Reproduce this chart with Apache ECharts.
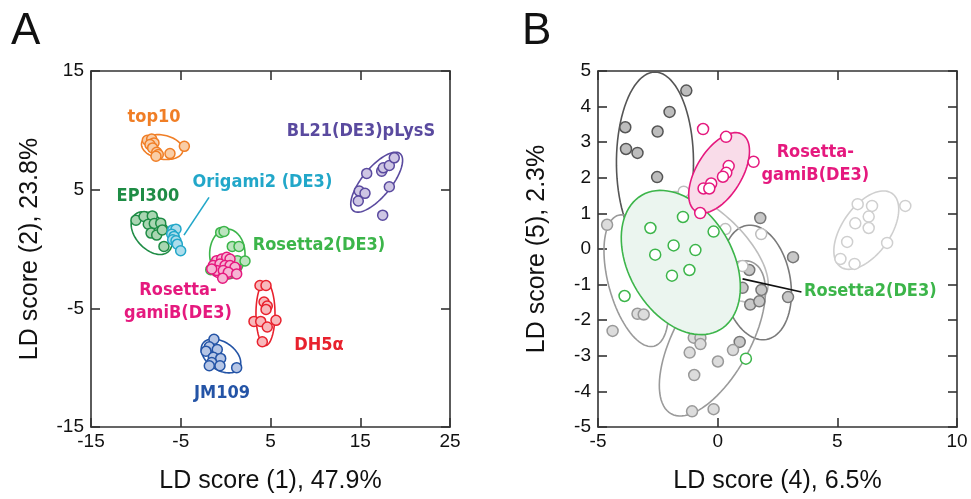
<!DOCTYPE html>
<html>
<head>
<meta charset="utf-8">
<script src="https://cdn.jsdelivr.net/npm/echarts@6/dist/echarts.min.js"></script>
<style>
  html, body { margin: 0; padding: 0; background: #fff; }
  #chart { width: 971px; height: 499px; }
</style>
</head>
<body>
<div id="chart"></div>
<script>
// ---- panel A: LD1 vs LD2 ----
const top10 = [[-8.73,9.16],[-8.24,9.27],[-7.98,8.94],[-8.43,8.80],[-8.13,8.52],[-7.68,8.15],[-7.50,7.96],[-7.76,7.82],[-6.20,8.04],[-4.60,8.65]];
const epi300 = [[-9.99,2.43],[-9.09,2.74],[-8.17,2.79],[-8.62,2.09],[-7.95,2.15],[-7.23,2.18],[-8.31,1.34],[-7.68,1.17],[-7.06,1.61],[-6.87,0.22]];
const origami2 = [[-5.90,1.61],[-5.53,1.67],[-6.01,1.25],[-5.75,1.06],[-5.90,0.78],[-5.53,0.69],[-5.38,0.41],[-5.01,-0.15]];
const rosetta2A = [[-0.55,1.40],[-0.18,1.48],[0.74,0.22],[1.49,0.22],[1.30,-0.98],[2.16,-1.01],[-1.66,-1.74],[1.04,-2.02]];
const gamiBA = [[-1.00,-0.98],[-0.44,-0.84],[0.12,-0.70],[0.49,-0.84],[-1.37,-1.40],[-0.63,-1.26],[-0.07,-1.40],[0.49,-1.40],[1.04,-1.54],[-1.00,-1.82],[-0.26,-1.82],[0.30,-1.96],[1.23,-2.10],[-0.33,-2.46],[-1.55,-1.68]];
const dh5a = [[3.83,-3.08],[4.50,-3.08],[4.28,-4.47],[4.64,-4.81],[4.50,-5.09],[3.16,-6.10],[3.91,-6.10],[4.64,-6.57],[5.61,-6.01],[4.09,-7.82]];
const jm109 = [[-1.30,-7.61],[-1.82,-8.24],[-0.93,-8.47],[-2.19,-8.61],[-1.37,-9.12],[-0.55,-9.22],[-1.55,-9.56],[-0.63,-9.84],[-1.82,-9.84],[1.23,-10.00]];
const bl21 = [[15.72,6.37],[17.39,6.56],[17.57,6.84],[18.24,7.04],[18.79,7.68],[18.24,5.25],[14.89,4.88],[15.53,4.69],[14.78,4.04],[17.50,2.85]];

// ellipses: [cx, cy, ax, ay, bx, by] (centre + two conjugate semi-diameters, data units)
const ellTop10 = [-7.07,8.59,2.29,-0.35,-0.27,-0.99];
const ellEpi300 = [-8.24,1.34,1.86,-1.56,-1.33,-0.90];
const ellOrigami2 = [-5.75,0.98,0.19,-0.83,-0.55,-0.07];
const ellRosetta2A = [0.19,-0.42,0,-2.10,-1.97,0];
const ellGamiBA = [-0.07,-1.51,1.78,0,0,-1.01];
const ellDh5a = [4.44,-5.45,0,-2.68,-1.06,0];
const ellJm109 = [-0.52,-9.01,2.01,-1.06,-0.90,-0.96];
const ellBl21 = [16.83,5.63,2.60,2.41,1.26,-0.76];

const labelsA = [
  ['top10', -7.98, 11.06],
  ['EPI300', -8.65, 4.44],
  ['Origami2 (DE3)', 4.10, 5.61],
  ['BL21(DE3)pLysS', 15.08, 9.89],
  ['Rosetta2(DE3)', 10.40, 0.33],
  ['Rosetta-\ngamiB(DE3)', -5.31, -4.45],
  ['DH5α', 10.40, -8.13],
  ['JM109', -0.40, -12.16]
];
const leaderA = [[-4.64,1.17],[-1.85,4.35]];

// ---- panel B: LD4 vs LD5 ----
const grayG1 = [[-1.31,4.45],[-2.01,3.85],[-3.86,3.42],[-2.51,3.30],[-3.83,2.81],[-3.35,2.70],[-2.53,2.02]];
const grayG2 = [[5.85,1.26],[6.45,1.21],[6.31,0.91],[5.75,0.72],[6.31,0.59],[7.84,1.21],[5.41,0.20],[7.08,0.17],[5.13,-0.28],[5.72,-0.42]];
const grayG3 = [[1.78,0.87],[3.15,-0.23],[1.32,-0.59],[1.04,-1.09],[1.83,-1.15],[2.94,-1.35],[1.36,-1.56],[1.74,-1.47],[0.92,-2.61]];
const grayG4 = [[-1.42,1.61],[0.32,0.56],[1.82,0.42],[1.04,-0.48]];
const grayG5 = [[-1.00,-2.49],[-0.72,-2.49],[-0.72,-2.67],[-1.17,-2.91],[0.01,-3.16],[0.64,-2.84],[-0.98,-3.54],[-1.07,-4.56],[-0.17,-4.50]];
const grayG6 = [[-4.62,0.68],[-3.35,-1.82],[-3.09,-1.84],[-4.39,-2.30]];
const gamiBB = [[-0.61,3.37],[0.35,3.15],[1.50,2.45],[0.46,2.33],[0.36,2.14],[0.22,2.03],[-0.27,1.84],[-0.59,1.70],[-0.35,1.70],[-0.73,1.01]];
const rosetta2B = [[-1.45,0.90],[-2.81,0.59],[-0.17,0.49],[-1.84,0.10],[-0.93,-0.03],[-2.61,-0.16],[-1.91,-0.75],[-1.18,-0.59],[-3.89,-1.32],[1.18,-3.08]];

const ellG1 = [-2.62,2.43,0,-2.54,-1.61,0];
const ellG2 = [6.21,0.53,1.08,1.03,0.82,-0.39];
const ellG3 = [1.62,-0.94,0.42,-1.60,-1.40,-0.17];
const ellG4 = [-0.22,0.06,2.13,-1.42,-0.95,-0.63];
const ellG5 = [-0.22,-2.51,1.72,2.12,1.40,-0.51];
const ellG6 = [-3.40,-0.89,0.74,-1.84,-1.13,-0.20];
const ellGamiBB = [0.06,2.14,0.97,1.08,0.82,-0.33];
const ellRosetta2B = [-1.54,-0.38,1.63,-1.89,-1.88,-0.73];

const labelsB = [
  ['Rosetta-\ngamiB(DE3)', 4.08, 2.40],
  ['Rosetta2(DE3)', 6.38, -1.20]
];
const leaderB = [[1.04,-0.84],[3.50,-1.21]];

// ---- styles ----
const C = {
  top10: ['#F07E26', '#F9CDA6'],
  epi: ['#1E8C45', '#A9D6B2'],
  ori: ['#22A7C9', '#AEDDEB'],
  ros2: ['#3CB54A', '#BCE4BF'],
  gami: ['#E5197E', '#F6B6D4'],
  dh5: ['#E8212D', '#F8B8BB'],
  jm: ['#2454A6', '#B6C6E6'],
  bl: ['#5A4A9F', '#CEC6E4']
};
const labelFont = "'Liberation Sans Narrow', 'DejaVu Sans Condensed', sans-serif";
const axisFont = "'Liberation Sans', Arial, sans-serif";

function pts(name, grid, data, stroke, fill, size, z) {
  return {
    name, type: 'scatter', xAxisIndex: grid * 2, yAxisIndex: grid * 2, data,
    symbolSize: size, z: z || 4, silent: true,
    itemStyle: { color: fill, borderColor: stroke, borderWidth: 1.5, opacity: 1 }
  };
}

function ell(grid, e, stroke, fill, z) {
  return {
    type: 'custom', xAxisIndex: grid * 2, yAxisIndex: grid * 2, data: [e], z: z || 3, silent: true,
    renderItem: (params, api) => {
      const v = [0, 1, 2, 3, 4, 5].map((i) => api.value(i));
      const points = [];
      for (let i = 0; i <= 90; i++) {
        const t = (i / 90) * Math.PI * 2;
        points.push(api.coord([
          v[0] + v[2] * Math.cos(t) + v[4] * Math.sin(t),
          v[1] + v[3] * Math.cos(t) + v[5] * Math.sin(t)
        ]));
      }
      return { type: 'polygon', shape: { points }, style: { fill: fill || 'none', stroke, lineWidth: 1.6 } };
    }
  };
}

// group names drawn as plain text at a data position
function labels(grid, list, colors) {
  return {
    type: 'custom', xAxisIndex: grid * 2, yAxisIndex: grid * 2, z: 6, silent: true,
    data: list.map((l) => [l[1], l[2]]),
    renderItem: (params, api) => {
      const p = api.coord([api.value(0), api.value(1)]);
      const i = params.dataIndex;
      return {
        type: 'text', x: p[0], y: p[1],
        style: {
          text: list[i][0], fill: colors[i], align: 'center', verticalAlign: 'middle',
          font: 'bold 18px ' + labelFont, lineHeight: 23
        }
      };
    }
  };
}

function leader(grid, data, color) {
  return {
    type: 'line', xAxisIndex: grid * 2, yAxisIndex: grid * 2, data, symbol: 'none', z: 5, silent: true,
    lineStyle: { color, width: 1.6 }
  };
}

const lineSt = { color: '#333', width: 1.6 };
function xAx(grid, pos, min, max, interval, name) {
  return {
    gridIndex: grid, type: 'value', position: pos, min, max, interval,
    axisLine: { onZero: false, lineStyle: lineSt },
    axisTick: { inside: true, length: 9, lineStyle: lineSt },
    axisLabel: { show: pos === 'bottom', fontSize: 19, color: '#111', margin: 5, fontFamily: axisFont },
    splitLine: { show: false },
    name: pos === 'bottom' ? name : '', nameLocation: 'middle', nameGap: 42,
    nameTextStyle: { fontSize: 25, color: '#111', fontFamily: axisFont }
  };
}
function yAx(grid, pos, min, max, interval, name) {
  return {
    gridIndex: grid, type: 'value', position: pos, min, max, interval,
    axisLine: { onZero: false, lineStyle: lineSt },
    axisTick: { inside: true, length: 9, lineStyle: lineSt },
    axisLabel: { show: pos === 'left', fontSize: 19, color: '#111', margin: 7, fontFamily: axisFont },
    splitLine: { show: false },
    name: pos === 'left' ? name : '', nameLocation: 'middle', nameGap: 48,
    nameTextStyle: { fontSize: 25, color: '#111', fontFamily: axisFont }
  };
}

const chart = echarts.init(document.getElementById('chart'), null, { renderer: 'canvas' });
chart.setOption({
  animation: false,
  backgroundColor: '#fff',
  graphic: [
    { type: 'text', left: 11, top: 10, style: { text: 'A', fontSize: 44, fill: '#111', fontFamily: axisFont } },
    { type: 'text', left: 522, top: 10, style: { text: 'B', fontSize: 44, fill: '#111', fontFamily: axisFont } }
  ],
  grid: [
    { left: 91, top: 71, width: 359, height: 358 },
    { left: 598, top: 71, width: 359, height: 358 }
  ],
  xAxis: [
    xAx(0, 'bottom', -15, 25, 10, 'LD score (1), 47.9%'),
    xAx(0, 'top', -15, 25, 10),
    xAx(1, 'bottom', -5, 10, 5, 'LD score (4), 6.5%'),
    xAx(1, 'top', -5, 10, 5)
  ],
  yAxis: [
    yAx(0, 'left', -15, 15, 10, 'LD score (2), 23.8%'),
    yAx(0, 'right', -15, 15, 10),
    yAx(1, 'left', -5, 5, 1, 'LD score (5), 2.3%'),
    yAx(1, 'right', -5, 5, 1)
  ],
  series: [
    // panel A
    ell(0, ellTop10, C.top10[0]),
    ell(0, ellEpi300, C.epi[0]),
    ell(0, ellOrigami2, C.ori[0]),
    ell(0, ellRosetta2A, C.ros2[0]),
    ell(0, ellGamiBA, C.gami[0]),
    ell(0, ellDh5a, C.dh5[0]),
    ell(0, ellJm109, C.jm[0]),
    ell(0, ellBl21, C.bl[0]),
    pts('top10', 0, top10, C.top10[0], C.top10[1], 10),
    pts('EPI300', 0, epi300, C.epi[0], C.epi[1], 10),
    pts('Origami2 (DE3)', 0, origami2, C.ori[0], C.ori[1], 10),
    pts('Rosetta2(DE3)', 0, rosetta2A, C.ros2[0], C.ros2[1], 10),
    pts('Rosetta-gamiB(DE3)', 0, gamiBA, C.gami[0], C.gami[1], 10, 5),
    pts('DH5α', 0, dh5a, C.dh5[0], C.dh5[1], 10),
    pts('JM109', 0, jm109, C.jm[0], C.jm[1], 10),
    pts('BL21(DE3)pLysS', 0, bl21, C.bl[0], C.bl[1], 10),
    labels(0, labelsA, [C.top10[0], C.epi[0], C.ori[0], C.bl[0], C.ros2[0], C.gami[0], C.dh5[0], C.jm[0]]),
    leader(0, leaderA, C.ori[0]),
    // panel B
    ell(1, ellG1, '#555', null, 1),
    ell(1, ellG2, '#cfcfcf', null, 1),
    ell(1, ellG3, '#7a7a7a', null, 1),
    ell(1, ellG4, '#bdbdbd', null, 1),
    ell(1, ellG5, '#9a9a9a', null, 1),
    ell(1, ellG6, '#9a9a9a', null, 1),
    pts('g1', 1, grayG1, '#555', '#bdbdbd', 11, 2),
    pts('g2', 1, grayG2, '#cfcfcf', '#fff', 11, 2),
    pts('g3', 1, grayG3, '#777', '#c8c8c8', 11, 2),
    pts('g4', 1, grayG4, '#bdbdbd', '#fff', 11, 2),
    pts('g5', 1, grayG5, '#999', '#dcdcdc', 11, 2),
    pts('g6', 1, grayG6, '#999', '#dcdcdc', 11, 2),
    ell(1, ellRosetta2B, C.ros2[0], '#EBF5EF', 3),
    ell(1, ellGamiBB, C.gami[0], '#F9DCE9', 3),
    pts('Rosetta2(DE3) B', 1, rosetta2B, C.ros2[0], '#fff', 11, 4),
    pts('Rosetta-gamiB(DE3) B', 1, gamiBB, C.gami[0], '#fff', 11, 4),
    labels(1, labelsB, [C.gami[0], C.ros2[0]]),
    leader(1, leaderB, '#111')
  ]
});
</script>
</body>
</html>
